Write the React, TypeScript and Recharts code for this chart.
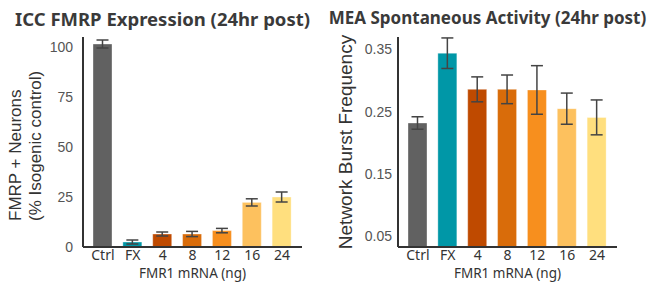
import React from "react";
import { BarChart, Bar, XAxis, YAxis, ErrorBar, Cell } from "recharts";

const categories = ["Ctrl", "FX", "4", "8", "12", "16", "24"];
const colors = ["#616161", "#0097a7", "#bf4a00", "#d96c0a", "#f78f1e", "#fdc15e", "#ffdf7e"];

const iccValues = [101.5, 2.5, 6.5, 6.5, 8.2, 22.3, 25];
const iccErrors = [2, 1, 1, 1.3, 1.1, 1.8, 2.5];
const iccTicks = [0, 25, 50, 75, 100];

const meaValues = [0.232, 0.344, 0.286, 0.286, 0.285, 0.255, 0.241];
const meaErrors = [0.01, 0.0245, 0.02, 0.023, 0.039, 0.025, 0.028];
const meaTicks = [0.05, 0.15, 0.25, 0.35];

const iccData = categories.map((name, i) => ({ name, value: iccValues[i], err: iccErrors[i] }));
const meaData = categories.map((name, i) => ({ name, value: meaValues[i], err: meaErrors[i] }));

const dark = "#333333";
const sans = "'Liberation Sans', Arial, sans-serif";
const plex = "'Noto Sans', sans-serif";

const titleStyle: React.CSSProperties = {
  position: "absolute",
  top: 6,
  fontFamily: plex,
  fontWeight: 700,
  color: "#3a3a3a",
  textAlign: "center",
  whiteSpace: "nowrap",
};

// two-line rotated label, lines start-aligned like the original
function LeftYLabel() {
  return (
    <g fontFamily={sans} fontSize={17} fill={dark}>
      <text x={15} y={221} transform="rotate(-90 15 221)" textAnchor="start" dominantBaseline="central">
        FMRP + Neurons
      </text>
      <text x={35} y={221} transform="rotate(-90 35 221)" textAnchor="start" dominantBaseline="central">
        (% Isogenic control)
      </text>
    </g>
  );
}

function RightYLabel() {
  return (
    <text
      x={20}
      y={142}
      transform="rotate(-90 20 142)"
      textAnchor="middle"
      dominantBaseline="central"
      fontFamily={sans}
      fontSize={19}
      fill={dark}
    >
      Network Burst Frequency
    </text>
  );
}

const xTick = { fontSize: 14, fill: dark, fontFamily: plex };
const yTick = { fontSize: 14, fill: "#555", fontFamily: sans };
const xLabel = {
  value: "FMR1 mRNA (ng)",
  position: "insideBottom" as const,
  offset: 4.5,
  style: { fontSize: 13.5, fill: dark, fontFamily: plex },
};

export default function App() {
  return (
    <div style={{ position: "absolute", left: 0, top: 0, width: 650, height: 282, background: "#fff" }}>
      <div style={{ ...titleStyle, left: 0, width: 325, fontSize: 18.5 }}>ICC FMRP Expression (24hr post)</div>
      <div style={{ ...titleStyle, left: 325, width: 325, fontSize: 17 }}>MEA Spontaneous Activity (24hr post)</div>

      <div style={{ position: "absolute", left: 0, top: 0 }}>
        <BarChart width={325} height={282} data={iccData} margin={{ top: 37, right: 23, bottom: 0, left: 0 }}>
          <XAxis
            dataKey="name"
            height={35}
            padding={{ left: 5, right: 5 }}
            axisLine={{ stroke: dark, strokeWidth: 2 }}
            tickLine={false}
            tickSize={3}
            tickMargin={0}
            tick={xTick}
            interval={0}
            label={xLabel}
          />
          <YAxis
            width={83}
            domain={[0, 105]}
            ticks={iccTicks}
            axisLine={{ stroke: dark, strokeWidth: 2 }}
            tickLine={false}
            tickMargin={4}
            tick={yTick}
            label={<LeftYLabel />}
          />
          <Bar dataKey="value" barSize={19} isAnimationActive={false} stroke="#ffffff" strokeOpacity={0.35} strokeWidth={1}>
            {iccData.map((d, i) => (
              <Cell key={d.name} fill={colors[i]} />
            ))}
            <ErrorBar dataKey="err" width={6} stroke="#444" strokeWidth={1.5} />
          </Bar>
        </BarChart>
      </div>

      <div style={{ position: "absolute", left: 325, top: 0 }}>
        <BarChart width={325} height={282} data={meaData} margin={{ top: 37, right: 33, bottom: 0, left: 0 }}>
          <XAxis
            dataKey="name"
            height={35}
            padding={{ left: 5, right: 5 }}
            axisLine={{ stroke: dark, strokeWidth: 2 }}
            tickLine={false}
            tickSize={3}
            tickMargin={0}
            tick={xTick}
            interval={0}
            label={xLabel}
          />
          <YAxis
            width={73}
            domain={[0.033, 0.37]}
            ticks={meaTicks}
            allowDataOverflow
            axisLine={{ stroke: dark, strokeWidth: 2 }}
            tickLine={false}
            tickMargin={0}
            tick={yTick}
            label={<RightYLabel />}
          />
          <Bar dataKey="value" barSize={19} isAnimationActive={false} stroke="#ffffff" strokeOpacity={0.35} strokeWidth={1}>
            {meaData.map((d, i) => (
              <Cell key={d.name} fill={colors[i]} />
            ))}
            <ErrorBar dataKey="err" width={6} stroke="#444" strokeWidth={1.5} />
          </Bar>
        </BarChart>
      </div>
    </div>
  );
}
